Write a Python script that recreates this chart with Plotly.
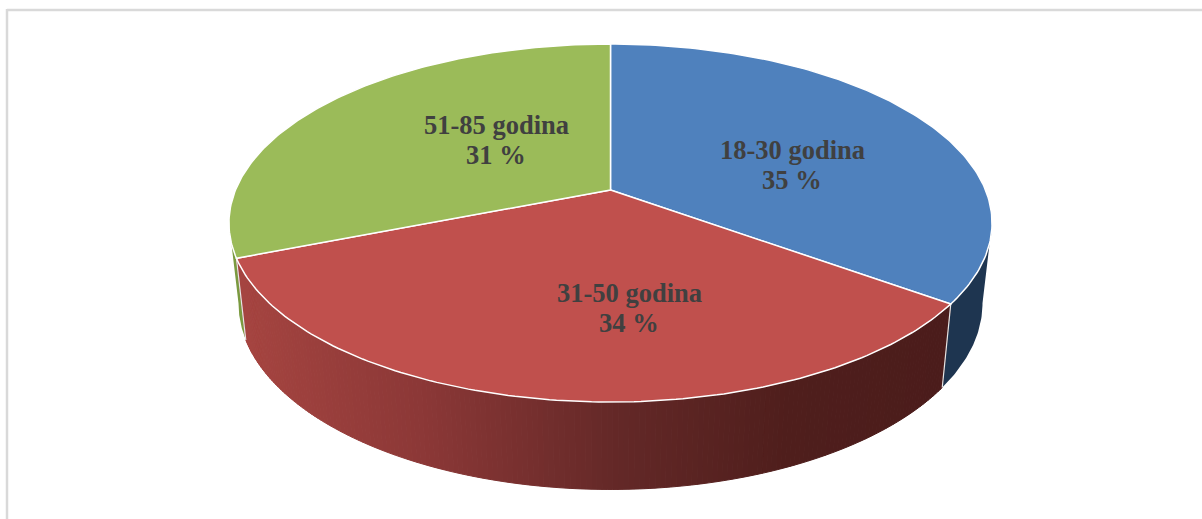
import numpy as np
import plotly.graph_objects as go

# Data
age_groups = ["18-30 godina", "31-50 godina", "51-85 godina"]
shares = [35, 34, 31]
top_colors = ["#4f81bd", "#c0504d", "#9bbb59"]
side_colors = ["#1e3550", None, "#7a9a3f"]

# Red side gradient, stops by horizontal position
grad_x = [240, 430, 620, 790, 950]
grad_rgb = [(165, 68, 64), (138, 55, 54), (99, 40, 39), (79, 30, 28), (75, 28, 27)]
label_xy = [(792, 150), (629, 293), (496, 124.5)]
LINE_GAP = 30

# Perspective projection of the pie disc onto the picture
CX, A, B, C = 610.5, 375.0, 0.1844, 172.9
TOP_Y, BOT_Y, BOT_SX, BOT_SY = 190.0, 269.0, 0.975, 1.04


def project(theta_deg, r=1.0, bottom=False):
    t = np.radians(np.asarray(theta_deg, dtype=float))
    u = r * np.sin(t)
    v = -r * np.cos(t)
    d = 1 - B * v
    if bottom:
        return CX + BOT_SX * A * u / d, BOT_Y + BOT_SY * C * v / d
    return CX + A * u / d, TOP_Y + C * v / d


def wall(a0, a1, n):
    th = np.linspace(a0, a1, n)
    xt, yt = project(th)
    xb, yb = project(th[::-1], bottom=True)
    return np.r_[xt, xb, xt[0]], np.r_[yt, yb, yt[0]]


def poly(x, y, fill, line=None, width=0.0):
    return go.Scatter(x=x, y=y, mode="lines", fill="toself", fillcolor=fill,
                      line=dict(color=line or fill, width=width),
                      hoverinfo="skip", showlegend=False)


edges = np.r_[0, np.cumsum(shares)] * 3.6
fig = go.Figure()

# Side walls, back to front
fig.add_trace(poly(*wall(100.6, edges[1], 40), side_colors[0]))
fig.add_trace(poly(*wall(edges[2], 259.4, 40), side_colors[2]))

strip_edges = np.linspace(edges[1], edges[2], 181)
for a0, a1 in zip(strip_edges[:-1], strip_edges[1:]):
    mx, _ = project((a0 + a1) / 2)
    rgb = [np.interp(mx, grad_x, [c[i] for c in grad_rgb]) for i in range(3)]
    col = "rgb(%d,%d,%d)" % tuple(int(round(c)) for c in rgb)
    fig.add_trace(poly(*wall(a0, a1, 4), col, col, 1.0))

# Light seams where side walls meet
for e in (edges[1], edges[2]):
    xt, yt = project(e)
    xb, yb = project(e, bottom=True)
    fig.add_trace(go.Scatter(x=[xt, xb], y=[yt, yb], mode="lines",
                             line=dict(color="#e6e6e6", width=1.2),
                             hoverinfo="skip", showlegend=False))

# Top faces
for i, col in enumerate(top_colors):
    th = np.linspace(edges[i], edges[i + 1], 140)
    ax, ay = project(th)
    x0, y0 = project(0.0, r=0.0)
    fig.add_trace(poly(np.r_[x0, ax, x0], np.r_[y0, ay, y0], col, "#ffffff", 1.5))

label_font = dict(family="Liberation Serif", size=26.5, color="#404040", weight="bold")
annotations = []
for name, val, (lx, ly) in zip(age_groups, shares, label_xy):
    annotations.append(dict(x=lx, y=ly, xref="x", yref="y", showarrow=False,
                            text=name, font=label_font))
    annotations.append(dict(x=lx, y=ly + LINE_GAP, xref="x", yref="y", showarrow=False,
                            text=f"{val} %", font=label_font))

frame = [
    dict(type="line", xref="x", yref="y", x0=7, x1=1202, y0=10, y1=10,
         line=dict(color="#d9d9d9", width=2.5)),
    dict(type="line", xref="x", yref="y", x0=7, x1=7, y0=9, y1=519,
         line=dict(color="#d9d9d9", width=2.5)),
]

fig.update_layout(
    width=1202, height=519, margin=dict(l=0, r=0, t=0, b=0),
    paper_bgcolor="#ffffff", plot_bgcolor="#ffffff",
    showlegend=False, annotations=annotations, shapes=frame,
    xaxis=dict(range=[0, 1202], visible=False, fixedrange=True),
    yaxis=dict(range=[519, 0], visible=False, fixedrange=True),
)

fig.write_html("out.html", config={"displayModeBar": False},
               post_script="document.body.style.margin='0';document.body.style.overflow='hidden';")
